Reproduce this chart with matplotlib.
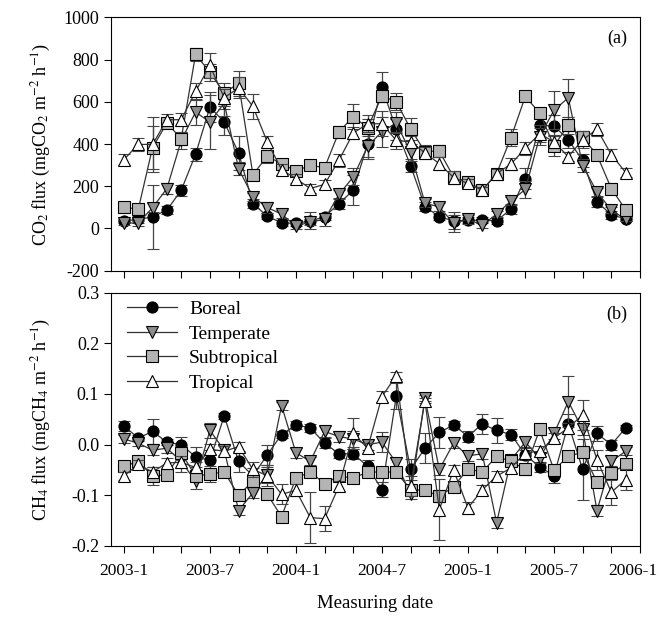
import numpy as np
import matplotlib
matplotlib.use("Agg")
import matplotlib.pyplot as plt
from matplotlib.lines import Line2D
from matplotlib.transforms import ScaledTranslation

plt.rcParams['font.family'] = ['Liberation Serif', 'DejaVu Serif']
plt.rcParams['mathtext.fontset'] = 'stix'
plt.rcParams['axes.unicode_minus'] = False

# meses desde 2003-1 hasta 2005-12
meses = np.arange(36)

# flujo de CO2 (mgCO2 m-2 h-1)
co2_boreal = [36, 43, 55, 87, 181, 351, 575, 504, 358, 118, 58, 27, 24, 36, 55, 118, 181, 400,
              669, 470, 297, 104, 55, 36, 39, 39, 36, 92, 236, 488, 486, 420, 322, 126, 65, 45]
co2_temperate = [28, 24, 99, 189, 417, 551, 504, 594, 283, 150, 99, 68, 11, 31, 43, 161, 244, 389,
                 458, 500, 360, 120, 102, 24, 43, 16, 68, 130, 185, 435, 560, 619, 298, 173, 87, 43]
co2_subtropical = [102, 90, 383, 499, 425, 824, 740, 641, 688, 255, 342, 307, 272, 299, 288, 457, 530, 477,
                   628, 600, 471, 364, 367, 244, 220, 181, 260, 430, 625, 547, 392, 488, 432, 348, 189, 88]
co2_tropical = [326, 398, 398, 515, 515, 649, 772, 619, 666, 578, 410, 279, 236, 189, 209, 323, 452, 496,
                496, 417, 410, 358, 307, 241, 213, 181, 260, 305, 380, 449, 410, 340, 420, 470, 350, 265]

co2_boreal_err = [10, 15, 150, 20, 25, 30, 70, 60, 80, 20, 15, 15, 10, 40, 15, 25, 70, 60,
                  70, 50, 30, 20, 15, 40, 15, 15, 15, 25, 50, 60, 50, 40, 30, 25, 20, 10]
co2_temperate_err = [10, 10, 20, 25, 40, 60, 130, 60, 30, 20, 25, 20, 15, 15, 30, 20, 40, 60,
                     70, 50, 40, 20, 20, 40, 20, 15, 15, 20, 40, 40, 90, 90, 30, 20, 15, 10]
co2_subtropical_err = [10, 20, 100, 20, 30, 30, 40, 50, 60, 20, 30, 20, 15, 15, 15, 30, 60, 40,
                       30, 40, 50, 30, 30, 20, 15, 15, 20, 40, 10, 20, 50, 40, 30, 25, 25, 20]
co2_tropical_err = [25, 30, 130, 25, 30, 40, 60, 40, 50, 60, 30, 25, 20, 20, 20, 30, 30, 40,
                    60, 40, 30, 30, 30, 30, 20, 15, 20, 30, 30, 40, 30, 20, 40, 30, 25, 20]

# flujo de CH4 (mgCH4 m-2 h-1)
ch4_boreal = [0.037, 0.013, 0.026, 0.005, 0.0, -0.024, -0.031, 0.057, -0.033, -0.062, -0.020, 0.020,
              0.039, 0.033, 0.003, -0.018, -0.018, -0.043, -0.089, 0.096, -0.049, -0.007, 0.024, 0.039,
              0.016, 0.041, 0.028, 0.020, -0.020, -0.044, -0.061, 0.041, -0.049, 0.022, 0.0, 0.033]
ch4_temperate = [0.011, 0.003, -0.011, -0.007, -0.033, -0.072, 0.028, -0.011, -0.13, -0.095, -0.06, 0.077,
                 -0.016, -0.033, 0.026, 0.016, 0.011, 0.0, 0.005, -0.036, -0.098, 0.092, -0.049, 0.003,
                 -0.022, -0.018, -0.154, -0.030, 0.005, -0.026, 0.022, 0.085, 0.030, -0.130, -0.033, -0.013]
ch4_subtropical = [-0.043, -0.033, -0.062, -0.059, -0.016, -0.062, -0.058, -0.054, -0.100, -0.072, -0.098, -0.142,
                   -0.066, -0.054, -0.077, -0.062, -0.066, -0.054, -0.054, -0.054, -0.089, -0.090, -0.102, -0.083,
                   -0.048, -0.054, -0.023, -0.033, -0.049, 0.030, -0.050, -0.023, -0.015, -0.074, -0.056, -0.039]
ch4_tropical = [-0.062, -0.039, -0.054, -0.036, -0.035, -0.045, -0.009, -0.013, -0.004, -0.049, -0.061, -0.098,
                -0.090, -0.144, -0.146, -0.082, 0.022, -0.007, 0.095, 0.136, -0.082, 0.087, -0.128, -0.050,
                -0.125, -0.089, -0.062, -0.046, -0.016, -0.013, 0.013, 0.033, 0.059, -0.030, -0.094, -0.069]

ch4_boreal_err = [0.01, 0.006, 0.025, 0.006, 0.015, 0.02, 0.02, 0.006, 0.02, 0.015, 0.02, 0.006,
                  0.008, 0.008, 0.01, 0.008, 0.01, 0.012, 0.015, 0.025, 0.02, 0.03, 0.03, 0.008,
                  0.01, 0.02, 0.025, 0.01, 0.01, 0.01, 0.015, 0.02, 0.06, 0.015, 0.01, 0.005]
ch4_temperate_err = [0.008, 0.006, 0.01, 0.01, 0.02, 0.015, 0.015, 0.01, 0.008, 0.01, 0.015, 0.008,
                     0.01, 0.008, 0.01, 0.01, 0.015, 0.01, 0.02, 0.01, 0.01, 0.005, 0.01, 0.01,
                     0.01, 0.01, 0.01, 0.01, 0.01, 0.01, 0.01, 0.05, 0.01, 0.01, 0.01, 0.008]
ch4_subtropical_err = [0.008, 0.008, 0.018, 0.01, 0.01, 0.008, 0.015, 0.01, 0.01, 0.01, 0.01, 0.01,
                       0.008, 0.01, 0.008, 0.008, 0.008, 0.01, 0.01, 0.008, 0.01, 0.008, 0.012, 0.01,
                       0.01, 0.008, 0.01, 0.01, 0.01, 0.01, 0.01, 0.01, 0.01, 0.01, 0.01, 0.01]
ch4_tropical_err = [0.008, 0.008, 0.01, 0.01, 0.012, 0.01, 0.01, 0.01, 0.01, 0.015, 0.02, 0.02,
                    0.012, 0.05, 0.025, 0.01, 0.03, 0.01, 0.01, 0.007, 0.02, 0.005, 0.06, 0.01,
                    0.012, 0.01, 0.01, 0.01, 0.01, 0.01, 0.01, 0.01, 0.03, 0.02, 0.025, 0.02]

etiquetas = ['2003-1', '2003-7', '2004-1', '2004-7', '2005-1', '2005-7', '2006-1']
zonas = ['Boreal', 'Temperate', 'Subtropical', 'Tropical']
marcadores = ['o', 'v', 's', '^']
rellenos = ['black', '#8c8c8c', '#b4b4b4', 'white']

fig = plt.figure(figsize=(6.63, 6.23), dpi=100)
ax1 = fig.add_axes([0.1674, 0.5655, 0.7979, 0.4067])
ax2 = fig.add_axes([0.1674, 0.1236, 0.7979, 0.4067])

co2 = [(co2_boreal, co2_boreal_err), (co2_temperate, co2_temperate_err),
       (co2_subtropical, co2_subtropical_err), (co2_tropical, co2_tropical_err)]
ch4 = [(ch4_boreal, ch4_boreal_err), (ch4_temperate, ch4_temperate_err),
       (ch4_subtropical, ch4_subtropical_err), (ch4_tropical, ch4_tropical_err)]

def graficar(ax, series):
    for k in range(4):
        y, e = series[k]
        ax.errorbar(meses, y, yerr=e, marker=marcadores[k], ms=8, mfc=rellenos[k], mec='black',
                    mew=0.8, color='#333333', lw=0.9, ecolor='#444444', elinewidth=0.9,
                    capsize=4, capthick=0.9, zorder=2 + k)

graficar(ax1, co2)
graficar(ax2, ch4)

for ax in [ax1, ax2]:
    ax.set_xlim(-0.9, 36)
    ax.set_xticks(np.arange(0, 37, 6))
    ax.set_xticks(np.arange(0, 37, 2), minor=True)
    ax.tick_params(axis='both', direction='out', length=5, width=0.8, labelsize=13)
    ax.tick_params(axis='x', which='major', pad=7, labelsize=12.5)
    ax.tick_params(axis='x', which='minor', direction='out', length=5, width=0.8)
    for s in ax.spines.values():
        s.set_linewidth(0.8)

ax1.set_ylim(-200, 1000)
ax1.set_yticks(np.arange(-200, 1001, 200))
ax1.set_xticklabels([])
ax1.set_ylabel('CO$_2$ flux (mgCO$_2$ m$^{-2}$ h$^{-1}$)', fontsize=13)
ax1.text(0.975, 0.95, '(a)', transform=ax1.transAxes, ha='right', va='top', fontsize=13)

ax2.set_ylim(-0.2, 0.3)
ax2.set_yticks([-0.2, -0.1, 0.0, 0.1, 0.2, 0.3])
ax2.set_yticklabels(['-0.2', '-0.1', '0.0', '0.1', '0.2', '0.3'])
ax2.set_xticklabels(etiquetas)
ax2.set_ylabel('CH$_4$ flux (mgCH$_4$ m$^{-2}$ h$^{-1}$)', fontsize=13)
ax2.set_xlabel('Measuring date', fontsize=13.5, labelpad=12)
ax2.text(0.975, 0.95, '(b)', transform=ax2.transAxes, ha='right', va='top', fontsize=13)

# la ultima etiqueta queda pegada al borde, la corremos un poco
ultima = ax2.get_xticklabels()[-1]
ultima.set_transform(ultima.get_transform() + ScaledTranslation(-5 / 72, 0, fig.dpi_scale_trans))

handles = [Line2D([], [], marker=marcadores[k], ms=8, mfc=rellenos[k], mec='black', mew=0.8,
                  color='#333333', lw=0.9) for k in range(4)]
ax2.legend(handles, zonas, loc='upper left', frameon=False, fontsize=14, handlelength=2.6,
           handletextpad=0.6, labelspacing=0.36, borderaxespad=0.1, borderpad=0.3,
           bbox_to_anchor=(0.015, 1.0))

ax1.yaxis.set_label_coords(-0.11, 0.5)
ax2.yaxis.set_label_coords(-0.11, 0.5)

fig.savefig('out.png', dpi=100)
